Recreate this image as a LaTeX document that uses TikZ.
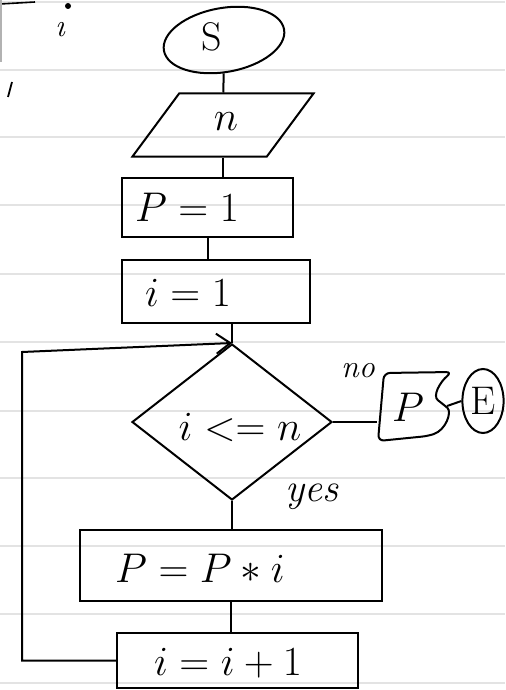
\documentclass[tikz,border=0pt]{standalone}
\usetikzlibrary{shapes.geometric,arrows.meta}
\begin{document}
\begin{tikzpicture}[x=0.5pt,y=-0.5pt,line width=1pt,
  rule/.style={draw=gray!22,line width=1.1pt},
  box/.style={draw,rectangle,inner sep=0pt},
  lbl/.style={font=\fontsize{20}{24}\selectfont,inner sep=1pt},
  small/.style={font=\fontsize{16}{18}\selectfont\itshape,inner sep=1pt},
  conn/.style={line width=1pt},
  back/.style={conn,-{Straight Barb[length=7pt,width=10pt]}}]
\useasboundingbox (0,0) rectangle (505,690);
% ruled paper
\foreach \yy in {2,70,137,205,274,342,411,478,546,614,683}
  \draw[rule] (0,\yy) -- (505,\yy);
% stray marks top-left
\draw[line width=0.8pt] (0,4) -- (35,2);
\draw[gray!60,line width=0.6pt] (1,0) -- (1,62);
\node[small] (mi) at (60,30) {\i};
\fill (68,6) circle (1.5pt);
\draw[line width=0.9pt] (8,97) -- (12,82);
% nodes
\node[draw,ellipse,rotate=10,minimum width=61pt,minimum height=32pt] (S) at (224,40) {};
\node[lbl] (St) at (212,37) {S};
\node[draw,trapezium,trapezium left angle=62,trapezium right angle=118,trapezium stretches=true,minimum width=90.5pt,minimum height=31.5pt] (n) at (223,125) {};
\node[lbl] (nt) at (226,122) {$n$};
\node[box,minimum width=85.5pt,minimum height=29.5pt] (P1) at (207.5,207.5) {};
\node[lbl] (P1t) at (187,207) {$P=1$};
\node[box,minimum width=94pt,minimum height=31.5pt] (i1) at (216,291.5) {};
\node[lbl] (i1t) at (188,293) {$i=1$};
\node[draw,diamond,minimum width=100pt,minimum height=78pt,inner sep=0pt] (d) at (232,422) {};
\node[lbl] (dt) at (240,427) {$i<=n$};
\node[minimum width=34pt,minimum height=34pt,inner sep=0pt] (out) at (412,406) {};
\draw[rounded corners=3pt] (384,373) -- (452,372) .. controls (440,382) and (432,396) .. (443,404)
   .. controls (452,412) and (446,430) .. (428,436) -- (378,441) -- cycle;
\node[lbl] (outt) at (408,407) {$P$};
\node[draw,ellipse,minimum width=18pt,minimum height=32pt,inner sep=0pt,lbl] (E) at (483,401) {E};
\node[box,minimum width=151pt,minimum height=35.5pt] (PPi) at (231,565.5) {};
\node[lbl] (PPit) at (200,568) {$P=P*i$};
\node[box,minimum width=120.5pt,minimum height=27.5pt] (ii1) at (237.5,660.5) {};
\node[lbl] (ii1t) at (228,663) {$i=i+1$};
\node[small] (no) at (358,371) {no};
\node[lbl,font=\fontsize{20}{24}\selectfont\itshape] (yes) at (312,497) {yes};
% connectors
\draw[conn] (S) -- (n);
\draw[conn] (n.south) -- (n.south |- P1.north);
\draw[conn] (P1.south) -- (P1.south |- i1.north);
\draw[conn] (d.north |- i1.south) -- (d.north);
\draw[conn] (d.east) -- (d.east -| out.west);
\draw[conn] (out.east) -- (E.west);
\draw[conn] (d.south) -- (d.south |- PPi.north);
\draw[conn] (PPi.south) -- (PPi.south |- ii1.north);
\coordinate (lp) at (22,352);
\draw[back] (ii1.west) -| (lp) -- (d.north);
\end{tikzpicture}
\end{document}
